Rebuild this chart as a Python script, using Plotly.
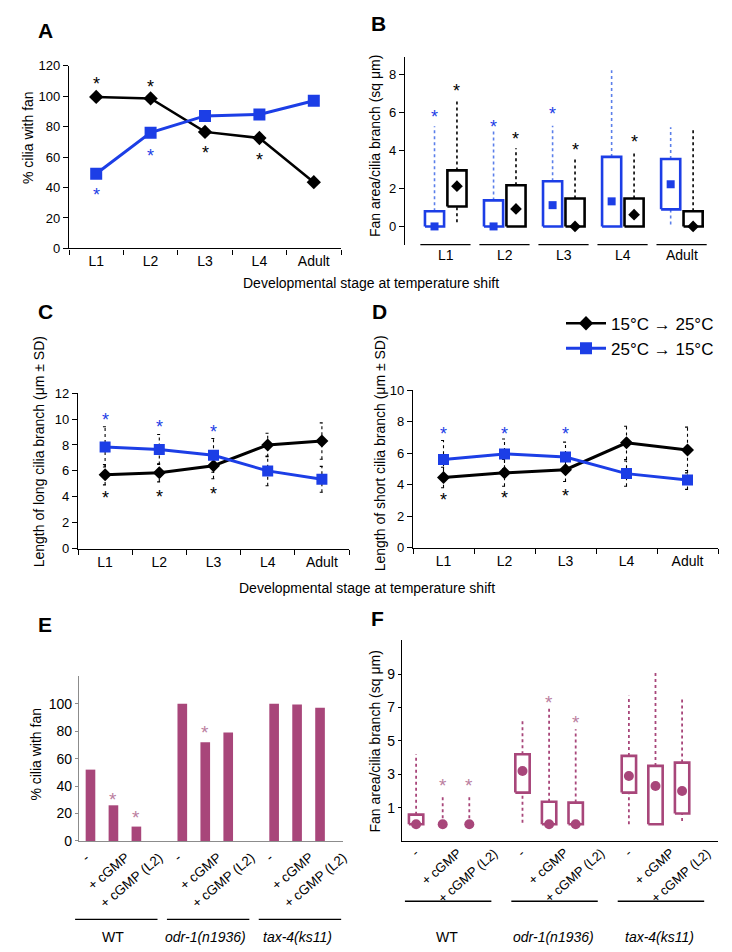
import plotly.graph_objects as go

W, H = 732, 952
FONT = "Liberation Sans, Arial, Helvetica, sans-serif"
BLACK = "#000000"
BLUE = "#1c3ee6"
BLUE_DOT = "#5b7fea"
MAG = "#a8467a"
MAG_STAR = "#bb7f9f"
GRAY = "#8c8c8c"

# ---------------- data ----------------
stages = ["L1", "L2", "L3", "L4", "Adult"]
series_names = ["15°C \u2192 25°C", "25°C \u2192 15°C"]

# A: % cilia with fan
a_warm = [99.5, 98.5, 76.5, 72.5, 43.5]
a_cold = [49, 76, 87, 88, 97]
a_star_warm = [111.5, 109, 66, 61.5, None]
a_star_cold = [38.5, 64, None, None, None]

# B: fan area/cilia branch (box summaries)
b_warm_q1 = [1.05, 0, 0, 0, 0]
b_warm_q3 = [2.95, 2.17, 1.47, 1.47, 0.8]
b_warm_med = [2.12, 0.92, 0, 0.62, 0]
b_warm_lo = [0.22, 0, 0, 0, 0]
b_warm_hi = [6.62, 4.12, 3.62, 3.99, 5.1]
b_warm_star = [7.4, 4.85, 4.28, 4.72, None]
b_cold_q1 = [0, 0, 0, 0, 0.9]
b_cold_q3 = [0.8, 1.37, 2.38, 3.66, 3.55]
b_cold_med = [0, 0, 1.12, 1.32, 2.22]
b_cold_lo = [0, 0, 0, 0, 0.1]
b_cold_hi = [5.27, 5.05, 5.3, 8.22, 5.22]
b_cold_star = [6.05, 5.5, 6.2, None, None]

# C: length of long cilia branch
c_warm = [5.7, 5.85, 6.4, 8.0, 8.3]
c_warm_sd = [0.78, 0.7, 1.0, 0.9, 1.4]
c_cold = [7.85, 7.65, 7.2, 6.0, 5.35]
c_cold_sd = [1.55, 1.15, 1.3, 1.15, 1.0]
c_star_warm = [4.3, 4.4, 4.6, None, None]
c_star_cold = [10.3, 9.8, 9.35, None, None]

# D: length of short cilia branch
d_warm = [4.45, 4.75, 4.95, 6.65, 6.2]
d_warm_sd = [0.65, 0.85, 0.75, 1.05, 1.45]
d_cold = [5.6, 5.95, 5.75, 4.7, 4.3]
d_cold_sd = [1.2, 0.95, 0.95, 0.8, 0.6]
d_star_warm = [3.35, 3.45, 3.6, None, None]
d_star_cold = [7.5, 7.55, 7.5, None, None]

# E: % cilia with fan by genotype / treatment
groups = ["WT", "odr-1(n1936)", "tax-4(ks11)"]
group_text = ["WT", "<i>odr-1(n1936)</i>", "<i>tax-4(ks11)</i>"]
conditions = ["-", "+ cGMP", "+ cGMP (L2)"]
e_wt = [52, 26, 10.5]
e_odr1 = [100, 72, 79]
e_tax4 = [100, 99.5, 97]
e_star = [[None, 34, 21], [None, 83, None], [None, None, None]]

# F: fan area by genotype / treatment (box summaries)
f_med = [[0, 0, 0], [3.2, 0, 0], [2.9, 2.3, 2.0]]
f_q1 = [[0, None, None], [1.9, 0, 0], [1.9, 0, 0.65]]
f_q3 = [[0.58, None, None], [4.2, 1.35, 1.3], [4.1, 3.5, 3.7]]
f_lo = [[0, 0, 0], [0.1, 0, 0], [0, 0, 0.2]]
f_hi = [[4.2, 1.8, 1.8], [6.3, 7.0, 5.7], [7.7, 9.2, 7.6]]
f_star = [[None, 2.6, 2.6], [None, 7.6, 6.4], [None, None, None]]

# ---------------- helpers ----------------
# vertical calibration of the photographed page (observed: shown_y = 0.98*y + 8.6)
def T(y):
    return (y - 8.6) / 0.98

def dx(a, b):
    return [a / W, b / W]

def dy(top, bot):
    return [1 - T(bot) / H, 1 - T(top) / H]

def py(y):
    return 1 - T(y) / H

def ext_range(dom, rng, new_dom):
    s = (rng[1] - rng[0]) / (dom[1] - dom[0])
    return [rng[0] - (dom[0] - new_dom[0]) * s, rng[1] + (new_dom[1] - dom[1]) * s]

def box_xy(centers, q1, q3, hw):
    xs, ys = [], []
    for c, a, b in zip(centers, q1, q3):
        if a is None or b is None:
            continue
        xs += [c - hw, c + hw, c + hw, c - hw, c - hw, None]
        ys += [a, a, b, b, a, None]
    return xs, ys

def whisk_xy(centers, lo, q1, q3, hi):
    xs, ys = [], []
    for c, l, a, b, h in zip(centers, lo, q1, q3, hi):
        if a is None or b is None:
            xs += [c, c, None]
            ys += [l, h, None]
            continue
        if l < a:
            xs += [c, c, None]
            ys += [l, a, None]
        if h > b:
            xs += [c, c, None]
            ys += [b, h, None]
    return xs, ys

def err_xy(centers, mean, sd, cap):
    xs, ys = [], []
    for c, m, s in zip(centers, mean, sd):
        xs += [c, c, None, c - cap, c + cap, None, c - cap, c + cap, None]
        ys += [m - s, m + s, None, m - s, m - s, None, m + s, m + s, None]
    return xs, ys

annotations = []

def stars(xs, ys, xref, yref, color, size=18):
    for x, y in zip(xs, ys):
        if y is None:
            continue
        annotations.append(dict(x=x, y=y, xref=xref, yref=yref, text="*", showarrow=False,
                                font=dict(size=size, color=color, family=FONT), yshift=-5))

fig = go.Figure()
pos = list(range(len(stages)))

# ---------------- A ----------------
fig.add_trace(go.Scatter(x=pos, y=a_warm, mode="lines+markers", name=series_names[0],
                         line=dict(color=BLACK, width=2.5),
                         marker=dict(symbol="diamond", size=11, color=BLACK),
                         xaxis="x", yaxis="y", showlegend=True))
fig.add_trace(go.Scatter(x=pos, y=a_cold, mode="lines+markers", name=series_names[1],
                         line=dict(color=BLUE, width=3),
                         marker=dict(symbol="square", size=12, color=BLUE),
                         xaxis="x", yaxis="y", showlegend=True))
stars(pos, a_star_warm, "x", "y", BLACK)
stars(pos, a_star_cold, "x", "y", BLUE)

# ---------------- B ----------------
b_off, b_hw = 0.19, 0.162
cold_c = [p - b_off for p in pos]
warm_c = [p + b_off for p in pos]
for cen, lo, q1, q3, hi, med, col, dcol, sym, msz in [
        (cold_c, b_cold_lo, b_cold_q1, b_cold_q3, b_cold_hi, b_cold_med, BLUE, BLUE_DOT, "square", 8),
        (warm_c, b_warm_lo, b_warm_q1, b_warm_q3, b_warm_hi, b_warm_med, BLACK, BLACK, "diamond", 9)]:
    wx, wy = whisk_xy(cen, lo, q1, q3, hi)
    fig.add_trace(go.Scatter(x=wx, y=wy, mode="lines", line=dict(color=dcol, width=1.6, dash="dot"),
                             xaxis="x2", yaxis="y2", showlegend=False, hoverinfo="skip"))
    bx, by = box_xy(cen, q1, q3, b_hw)
    fig.add_trace(go.Scatter(x=bx, y=by, mode="lines", line=dict(color=col, width=2.6),
                             xaxis="x2", yaxis="y2", showlegend=False, hoverinfo="skip"))
    fig.add_trace(go.Scatter(x=cen, y=med, mode="markers", marker=dict(symbol=sym, size=msz, color=col),
                             xaxis="x2", yaxis="y2", showlegend=False, cliponaxis=False))
stars(cold_c, b_cold_star, "x2", "y2", BLUE)
stars(warm_c, b_warm_star, "x2", "y2", BLACK)
# group underlines
ux, uy = [], []
for p in pos:
    ux += [p - 0.43, p + 0.42, None]
    uy += [-0.96, -0.96, None]
fig.add_trace(go.Scatter(x=ux, y=uy, mode="lines", line=dict(color=BLACK, width=1.5),
                         xaxis="x2", yaxis="y2", showlegend=False, hoverinfo="skip"))

# ---------------- C & D ----------------
for xa, ya, w, wsd, c, csd, sw, sc in [
        ("x3", "y3", c_warm, c_warm_sd, c_cold, c_cold_sd, c_star_warm, c_star_cold),
        ("x4", "y4", d_warm, d_warm_sd, d_cold, d_cold_sd, d_star_warm, d_star_cold)]:
    for m, s in [(w, wsd), (c, csd)]:
        ex, ey = err_xy(pos, m, s, 0.04)
        fig.add_trace(go.Scatter(x=ex, y=ey, mode="lines", line=dict(color=BLACK, width=1.1, dash="dot"),
                                 xaxis=xa, yaxis=ya, showlegend=False, hoverinfo="skip"))
    fig.add_trace(go.Scatter(x=pos, y=w, mode="lines+markers", line=dict(color=BLACK, width=3),
                             marker=dict(symbol="diamond", size=10, color=BLACK),
                             xaxis=xa, yaxis=ya, showlegend=False))
    fig.add_trace(go.Scatter(x=pos, y=c, mode="lines+markers", line=dict(color=BLUE, width=3),
                             marker=dict(symbol="square", size=11, color=BLUE),
                             xaxis=xa, yaxis=ya, showlegend=False))
    stars(pos, sw, xa, ya, BLACK)
    stars(pos, sc, xa, ya, BLUE)

# ---------------- E ----------------
group_base = [0, 4, 8]
e_vals = [e_wt, e_odr1, e_tax4]
e_x, e_y = [], []
for b, vals in zip(group_base, e_vals):
    for j, v in enumerate(vals):
        e_x.append(b + j)
        e_y.append(v)
fig.add_trace(go.Bar(x=e_x, y=e_y, width=0.42, marker=dict(color=MAG, line=dict(width=0)),
                     xaxis="x5", yaxis="y5", showlegend=False))
for b, st in zip(group_base, e_star):
    stars([b + j for j in range(3)], st, "x5", "y5", MAG_STAR, size=19)

# ---------------- F ----------------
for b, med, q1, q3, lo, hi, st in zip(group_base, f_med, f_q1, f_q3, f_lo, f_hi, f_star):
    cen = [b + j for j in range(3)]
    wx, wy = whisk_xy(cen, lo, q1, q3, hi)
    fig.add_trace(go.Scatter(x=wx, y=wy, mode="lines", line=dict(color=MAG, width=1.8, dash="dot"),
                             xaxis="x6", yaxis="y6", showlegend=False, hoverinfo="skip"))
    bx, by = box_xy(cen, q1, q3, 0.27)
    fig.add_trace(go.Scatter(x=bx, y=by, mode="lines", line=dict(color=MAG, width=2.6),
                             xaxis="x6", yaxis="y6", showlegend=False, hoverinfo="skip"))
    fig.add_trace(go.Scatter(x=cen, y=med, mode="markers", marker=dict(symbol="circle", size=10, color=MAG),
                             xaxis="x6", yaxis="y6", showlegend=False, cliponaxis=False))
    stars(cen, st, "x6", "y6", MAG_STAR, size=19)

# ---------------- group underline strips (E, F) ----------------
E_DOM, E_RNG = (79, 343), [-0.5, 11.0]
F_DOM, F_RNG = (402, 718), [-0.53, 11.35]
E7_DOM, F8_DOM = (55, 370), (385, 728)
E7_Y, F8_Y = (900, 935), (885, 935)
e_line_y = (E7_Y[1] - 917) / (E7_Y[1] - E7_Y[0])
f_line_y = (F8_Y[1] - 899) / (F8_Y[1] - F8_Y[0])
ex7, ey7, fx8, fy8 = [], [], [], []
for b in group_base:
    c = b + 1
    ex7 += [c - 1.67, c + 1.92, None]
    ey7 += [e_line_y, e_line_y, None]
    fx8 += [c - 1.42, c + 1.83, None]
    fy8 += [f_line_y, f_line_y, None]
fig.add_trace(go.Scatter(x=ex7, y=ey7, mode="lines", line=dict(color=BLACK, width=1.3),
                         xaxis="x7", yaxis="y7", showlegend=False, hoverinfo="skip"))
fig.add_trace(go.Scatter(x=fx8, y=fy8, mode="lines", line=dict(color=BLACK, width=1.3),
                         xaxis="x8", yaxis="y8", showlegend=False, hoverinfo="skip"))
for b, gt in zip(group_base, group_text):
    annotations.append(dict(x=b + 1, y=0.0, xref="x7", yref="y7", text=gt, showarrow=False,
                            font=dict(size=14, family=FONT, color=BLACK)))
    annotations.append(dict(x=b + 1.15, y=0.0, xref="x8", yref="y8", text=gt, showarrow=False,
                            font=dict(size=14, family=FONT, color=BLACK)))
    for j, cond in enumerate(conditions):
        annotations.append(dict(x=b + j, y=py(845), xref="x5", yref="paper", text=cond,
                                textangle=-40, xanchor="center", yanchor="top", xshift=-5,
                                showarrow=False, font=dict(size=13.5, family=FONT, color=BLACK)))
        annotations.append(dict(x=b + j, y=py(841), xref="x6", yref="paper", text=cond,
                                textangle=-41, xanchor="center", yanchor="top", xshift=-1,
                                showarrow=False, font=dict(size=13, family=FONT, color=BLACK)))

# ---------------- titles / labels ----------------
def paper_text(x, y, text, size=14, angle=0, bold=False):
    annotations.append(dict(x=x / W, y=py(y), xref="paper", yref="paper", text=("<b>%s</b>" % text) if bold else text,
                            showarrow=False, textangle=angle, xanchor="center", yanchor="middle",
                            font=dict(size=size, family=FONT, color=BLACK)))

for letter, x, y in [("A", 45, 32), ("B", 378, 25), ("C", 45, 312), ("D", 379, 312), ("E", 45, 623), ("F", 377, 617)]:
    paper_text(x, y, letter, size=21, bold=True)
paper_text(28, 139, "% cilia with fan", angle=-90)
paper_text(375, 147, "Fan area/cilia branch (sq \u03bcm)", angle=-90)
paper_text(39, 452, "Length of long cilia branch (\u03bcm \u00b1 SD)", angle=-90)
paper_text(380, 453, "Length of short cilia branch (\u03bcm \u00b1 SD)", angle=-90)
paper_text(36, 753, "% cilia with fan", angle=-90)
paper_text(375, 740, "Fan area/cilia branch (sq \u03bcm)", angle=-90)
paper_text(371, 283, "Developmental stage at temperature shift")
paper_text(367, 587, "Developmental stage at temperature shift")

# ---------------- axes ----------------
TF = dict(size=14, family=FONT, color=BLACK)

def yax(dom, rng, tickvals, anchor, color=BLACK, ticklen=5, size=13):
    return dict(domain=dy(*dom), range=rng, tickvals=tickvals, anchor=anchor, showline=True,
                linecolor=color, linewidth=1.2, ticks="outside", ticklen=ticklen, tickcolor=color,
                tickwidth=1.2, showgrid=False, zeroline=False,
                tickfont=dict(size=size, family=FONT, color=BLACK), fixedrange=True)

def xstage(dom, anchor):
    return dict(domain=dx(*dom), range=[-0.5, 4.5], tickvals=pos, ticktext=stages, anchor=anchor,
                showline=True, linecolor=BLACK, linewidth=1.2, ticks="", showgrid=False, zeroline=False,
                tickfont=TF, fixedrange=True,
                minor=dict(tickmode="array", tickvals=[p - 0.5 for p in pos] + [4.5], ticks="outside",
                           ticklen=5, tickcolor=BLACK, tickwidth=1.2, showgrid=False))

B_DOM, B_RNG = (405, 712), [-0.69, 4.51]

fig.update_layout(
    width=W, height=H, margin=dict(l=0, r=0, t=0, b=0),
    paper_bgcolor="white", plot_bgcolor="rgba(0,0,0,0)",
    font=dict(family=FONT, color=BLACK, size=13),
    xaxis=xstage((69, 341), "y"),
    yaxis=yax((67, 249), [0, 120], [0, 20, 40, 60, 80, 100, 120], "x"),
    xaxis2=dict(domain=dx(*B_DOM), range=B_RNG, tickvals=pos, ticktext=stages, anchor="y2",
                showline=False, ticks="", showgrid=False, zeroline=False, tickfont=TF, fixedrange=True),
    yaxis2=yax((58, 246), [-1.0, 8.94], [0, 2, 4, 6, 8], "x2"),
    xaxis3=xstage((78, 349), "y3"),
    yaxis3=yax((393, 548), [0, 12], [0, 2, 4, 6, 8, 10, 12], "x3"),
    xaxis4=xstage((413, 718), "y4"),
    yaxis4=yax((390, 547), [0, 10], [0, 2, 4, 6, 8, 10], "x4"),
    xaxis5=dict(domain=dx(*E_DOM), range=E_RNG, anchor="y5", showline=True, linecolor=GRAY, linewidth=1.2,
                ticks="", showticklabels=False, showgrid=False, zeroline=False, fixedrange=True),
    yaxis5=yax((675, 839), [0, 120], [0, 20, 40, 60, 80, 100], "x5", color=GRAY, ticklen=3, size=14),
    xaxis6=dict(domain=dx(*F_DOM), range=F_RNG, anchor="y6", showline=True, linecolor=BLACK, linewidth=1.2,
                ticks="", showticklabels=False, showgrid=False, zeroline=False, fixedrange=True),
    yaxis6=yax((639, 839), [-1, 11.04], [1, 3, 5, 7, 9], "x6", ticklen=3, size=14),
    xaxis7=dict(domain=dx(*E7_DOM), range=ext_range(E_DOM, E_RNG, E7_DOM), anchor="y7", visible=False,
                fixedrange=True),
    yaxis7=dict(domain=dy(*E7_Y), range=[0, 1], anchor="x7", visible=False, fixedrange=True),
    xaxis8=dict(domain=dx(*F8_DOM), range=ext_range(F_DOM, F_RNG, F8_DOM), anchor="y8", visible=False,
                fixedrange=True),
    yaxis8=dict(domain=dy(*F8_Y), range=[0, 1], anchor="x8", visible=False, fixedrange=True),
    legend=dict(x=561 / W, y=py(306), xanchor="left", yanchor="top", bgcolor="rgba(0,0,0,0)",
                font=dict(size=17, family=FONT, color=BLACK), tracegroupgap=0, itemwidth=40),
    annotations=annotations,
    showlegend=True,
)

fig.write_html("out.html", config={"displayModeBar": False},
               post_script="document.documentElement.style.margin='0';document.body.style.margin='0';"
                           "document.body.style.padding='0';document.body.style.overflow='hidden';"
                           "var gd=document.getElementById('{plot_id}');gd.style.position='fixed';"
                           "gd.style.left='0px';gd.style.top='0px';")
